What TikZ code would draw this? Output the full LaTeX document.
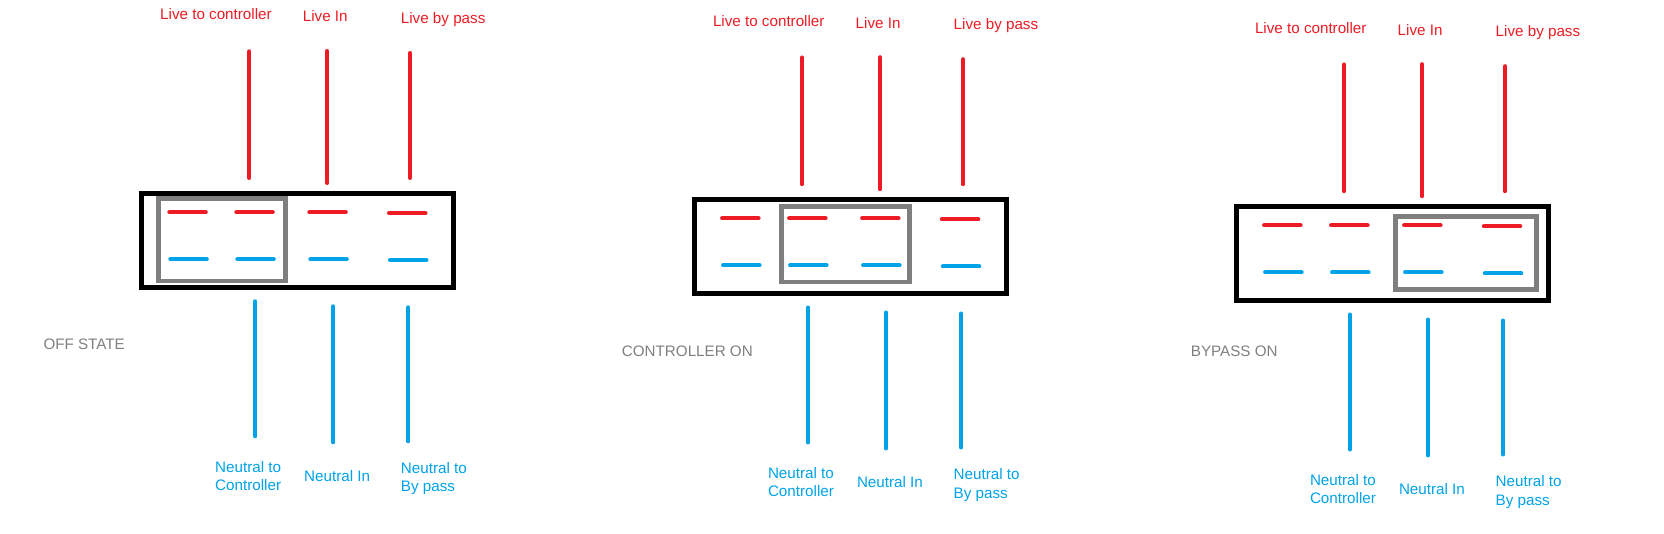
\documentclass[tikz,border=0pt]{standalone}
\usepackage{fontspec}
\setmainfont{Liberation Sans}

\definecolor{livered}{RGB}{237,28,36}
\definecolor{neutralblue}{RGB}{0,162,232}
\definecolor{slidegray}{RGB}{127,127,127}

\tikzset{
  wire/.style={line width=4pt, line cap=round},
  live/.style={wire, draw=livered},
  neutral/.style={wire, draw=neutralblue},
  housing/.style={draw=black, line width=4.7pt},
  slider/.style={draw=slidegray, line width=4.6pt},
  lbl/.style={font=\fontsize{15.2}{18.3}\selectfont, inner sep=0pt},
}

\begin{document}
\begin{tikzpicture}[x=1pt,y=-1pt]
\useasboundingbox (0,0) rectangle (1664,534);

% One switch per state: box corner, slider corners, state label
\foreach \n/\ox/\oy/\gxa/\gya/\gxb/\gyb/\sx/\sy/\state in {
  1/141.7/193.3/16.8/5.2/143.6/87.9/-98.4/156/OFF STATE,
  2/694.5/199.5/87/7/214.8/82.5/-72.8/156.5/CONTROLLER ON,
  3/1236.5/206.5/159/10/299.8/82.8/-45.8/149.5/BYPASS ON}
{
\begin{scope}[shift={(\ox,\oy)}]

% Switch body and slider
\draw[housing] (0,0) rectangle (311.7,93.9);
\draw[slider] (\gxa,\gya) rectangle (\gxb,\gyb);

% Contacts
\foreach \a/\d in {27.6/0, 94.6/0, 167.6/0, 247.3/1}{
  \draw[live] (\a,19+\d) -- ++(36.5,0);
  \draw[neutral] (\a+1,66+\d) -- ++(36.5,0);
}

% Live wires
\foreach \k/\x/\ya/\yb/\lx/\ly/\txt in {
  ctl/107.6/-142/-15.3/18.3/-173.3/Live to controller,
  in/185.6/-142.3/-10.3/161/-171.3/Live In,
  bp/268.6/-140.3/-15.3/259/-170/Live by pass}{
  \draw[live] (\x,\ya) -- (\x,\yb);
  \node[lbl, text=livered, anchor=base west] (live\k\n) at (\lx,\ly) {\txt};
}

% Neutral wires
\foreach \x/\ya/\yb in {113.6/108/243, 191.6/113/249, 266.6/114/248}
  \draw[neutral] (\x,\ya) -- (\x,\yb);

\node[lbl, text=neutralblue, anchor=north west, align=left] (ntlctl\n) at (73.3,267.5) {Neutral to\\Controller};
\node[lbl, text=neutralblue, anchor=base west] (ntlin\n) at (162.3,287.7) {Neutral In};
\node[lbl, text=neutralblue, anchor=north west, align=left] (ntlbp\n) at (259,269.1) {Neutral to\\By pass};

% State name
\node[lbl, text=slidegray, anchor=base west] (state\n) at (\sx,\sy) {\state};

\end{scope}
}

\end{tikzpicture}
\end{document}
